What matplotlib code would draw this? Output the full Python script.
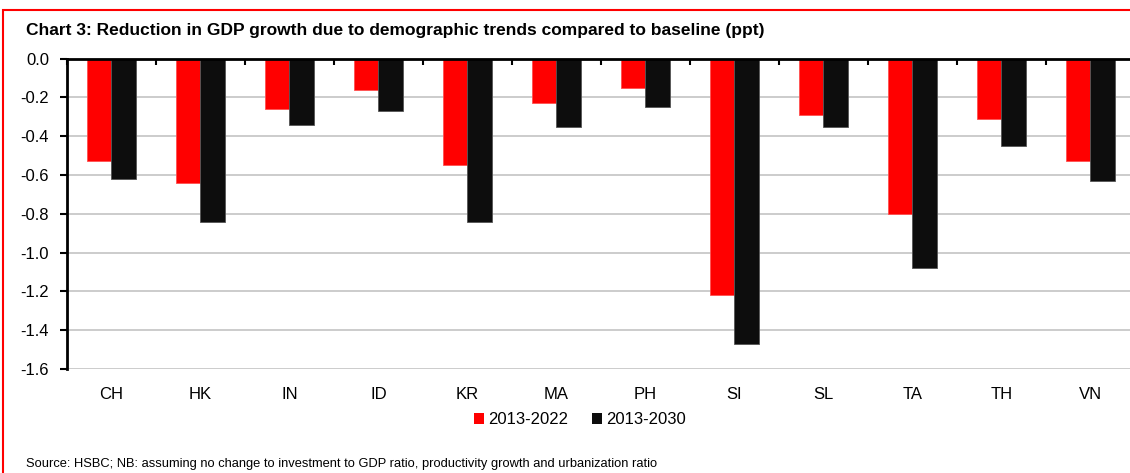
import numpy as np
import matplotlib
matplotlib.use("Agg")
import matplotlib.pyplot as plt
from matplotlib.patches import Rectangle, Patch

# data (ppt)
countries = ["CH", "HK", "IN", "ID", "KR", "MA", "PH", "SI", "SL", "TA", "TH", "VN"]
red_2022 = [-0.53, -0.64, -0.26, -0.16, -0.55, -0.23, -0.15, -1.22, -0.29, -0.80, -0.31, -0.53]
black_2030 = [-0.62, -0.84, -0.34, -0.27, -0.84, -0.35, -0.25, -1.47, -0.35, -1.08, -0.45, -0.63]
series_names = ["2013-2022", "2013-2030"]
yticks = [0.0, -0.2, -0.4, -0.6, -0.8, -1.0, -1.2, -1.4, -1.6]

plt.rcParams['font.family'] = ['Liberation Sans', 'DejaVu Sans']

W, H = 1130, 473
fig = plt.figure(figsize=(W / 100, H / 100), dpi=100)

# red frame round the whole exhibit
fig.patches.append(Rectangle((3 / W, -0.05), 1.2, 1 - 10 / H + 0.05,
                             transform=fig.transFigure, fill=False,
                             edgecolor="#ff0000", linewidth=1.5, clip_on=False))

ax = fig.add_axes([67 / W, 1 - 369 / H, 1068 / W, (369 - 58.7) / H])

x = np.arange(len(countries))
w = 0.28
ax.bar(x - w / 2, red_2022, w, color="#ff0000", edgecolor="#ff5050", linewidth=0.6, zorder=3)
ax.bar(x + w / 2, black_2030, w, color="#0d0d0d", edgecolor="#555555", linewidth=0.6, zorder=3)

ax.set_xlim(-0.5, len(countries) - 0.5)
ax.set_ylim(-1.6, 0.0)
ax.set_yticks(yticks)
ax.set_yticklabels([f"{v:.1f}" for v in yticks], fontsize=12)
ax.yaxis.grid(True, color="#cccccc", linewidth=1.4, zorder=0)

# category boundary ticks along the zero line, labels at the bottom
ax.set_xticks(np.arange(len(countries) + 1) - 0.5)
ax.tick_params(axis="x", which="major", top=True, bottom=False, labeltop=False,
               labelbottom=False, direction="in", length=4, width=1.5)
ax.set_xticks(x, minor=True)
ax.set_xticklabels(countries, minor=True, fontsize=12)
ax.tick_params(axis="x", which="minor", bottom=True, length=0, pad=13)
ax.tick_params(axis="y", length=5, width=1.5, pad=8)

for s in ["bottom", "right"]:
    ax.spines[s].set_visible(False)
for s in ["left", "top"]:
    ax.spines[s].set_linewidth(2)
    ax.spines[s].set_zorder(4)

fig.text(26 / W, 1 - 30 / H,
         "Chart 3: Reduction in GDP growth due to demographic trends compared to baseline (ppt)",
         family=['Liberation Sans Narrow', 'Liberation Sans', 'DejaVu Sans'],
         fontsize=12.5, fontweight="bold", va="center", ha="left")

handles = [Patch(facecolor="#ff0000"), Patch(facecolor="#0d0d0d")]
fig.legend(handles, series_names, loc="center", bbox_to_anchor=(580 / W, 1 - 420 / H),
           ncol=2, frameon=False, fontsize=12, handlelength=0.6, handleheight=0.6,
           handletextpad=0.25, columnspacing=1.4)

fig.text(26 / W, 1 - 464 / H,
         "Source: HSBC; NB: assuming no change to investment to GDP ratio, productivity growth and urbanization ratio",
         fontsize=9.3, va="center", ha="left")

fig.savefig("out.png", dpi=100)
